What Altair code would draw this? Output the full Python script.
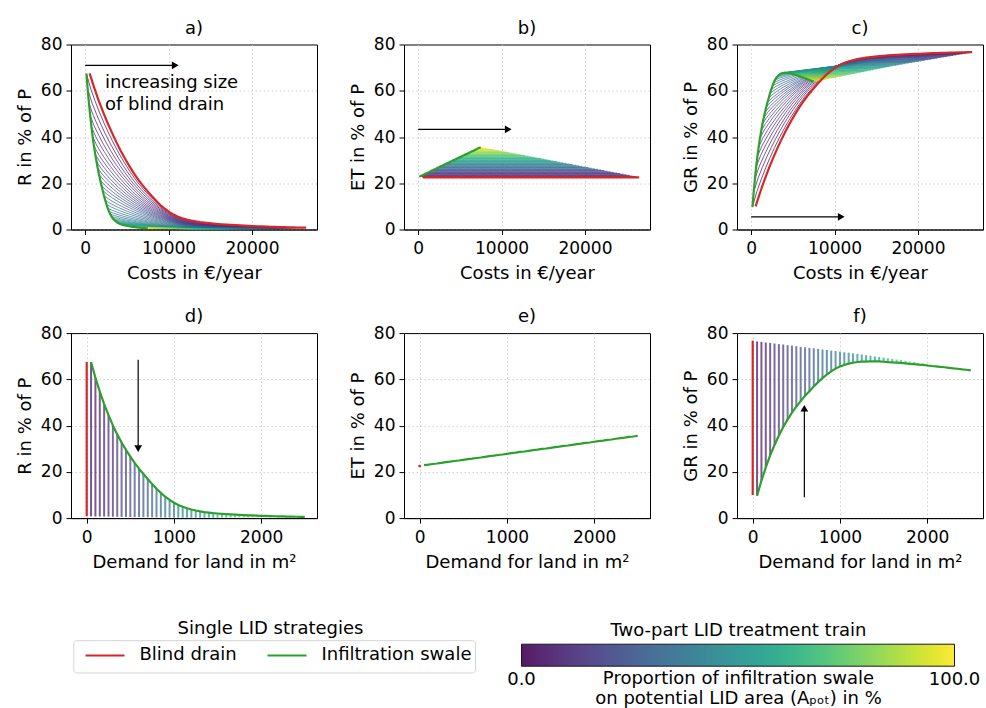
import altair as alt
import pandas as pd

# ---------------- values ----------------
SWALE_AREA = [50, 100, 150, 200, 250, 300, 350, 400, 450, 500,
              550, 600, 650, 700, 750, 800, 850, 900, 950, 1000,
              1050, 1100, 1150, 1200, 1250, 1300, 1350, 1400, 1450, 1500,
              1550, 1600, 1650, 1700, 1750, 1800, 1850, 1900, 1950, 2000,
              2050, 2100, 2150, 2200, 2250, 2300, 2350, 2400, 2450, 2500]
# runoff of the infiltration swale alone (panel d, green)
R_SWALE = [67.4, 60.7, 54.7, 49.3, 44.5, 40.1, 36.2, 32.7, 29.5, 26.6,
           23.9, 21.4, 19.1, 16.9, 14.7, 12.7, 10.9, 9.24, 7.85, 6.67,
           5.68, 4.88, 4.23, 3.70, 3.27, 2.90, 2.58, 2.34, 2.14, 1.99,
           1.85, 1.72, 1.61, 1.50, 1.40, 1.31, 1.22, 1.14, 1.07, 1.00,
           0.93, 0.87, 0.81, 0.76, 0.71, 0.66, 0.62, 0.58, 0.54, 0.50]
# evapotranspiration of the swale (panel e, green)
ET_SWALE = [22.9, 23.1, 23.4, 23.6, 23.9, 24.2, 24.4, 24.7, 24.9, 25.2,
            25.5, 25.7, 26.0, 26.2, 26.5, 26.8, 27.0, 27.3, 27.5, 27.8,
            28.1, 28.3, 28.6, 28.8, 29.1, 29.4, 29.6, 29.9, 30.1, 30.4,
            30.7, 30.9, 31.2, 31.4, 31.7, 32.0, 32.2, 32.5, 32.7, 33.0,
            33.3, 33.5, 33.8, 34.0, 34.3, 34.6, 34.8, 35.1, 35.3, 35.6]
DRAIN_AREA = SWALE_AREA
# runoff of the blind drain alone (panel a, red)
R_DRAIN = [67.5, 61.6, 56.1, 51.1, 46.4, 42.1, 38.0, 34.2, 30.7, 27.4,
           24.4, 21.6, 19.1, 16.8, 14.6, 12.5, 10.6, 9.0, 7.6, 6.44,
           5.54, 4.84, 4.29, 3.85, 3.49, 3.19, 2.94, 2.72, 2.53, 2.36,
           2.21, 2.08, 1.96, 1.85, 1.75, 1.66, 1.57, 1.49, 1.41, 1.33,
           1.26, 1.19, 1.13, 1.07, 1.01, 0.96, 0.91, 0.86, 0.81, 0.77]
ET_DRAIN = 22.5
R_NO_LID = 75.0
SWALE_COST_PER_M2 = 3.0
DRAIN_COST_PER_M2 = 10.6
A_POT = 2500
P_TOTAL = 100.0

STRATEGIES = ["Blind drain", "Infiltration swale"]
STRATEGY_COLORS = ["#d62728", "#2ca02c"]
COST_TICKS = [0, 10000, 20000]
LAND_TICKS = [0, 1000, 2000]
Y_TICKS = [0, 20, 40, 60, 80]
PANEL_TITLES = ["a)", "b)", "c)", "d)", "e)", "f)"]
Y_TITLES = {"R": "R in % of P", "ET": "ET in % of P", "GR": "GR in % of P"}

FONT = "DejaVu Sans"
W, H = 246, 185
PAD_L, PAD_T = 15, 18.5

# ---------------- tables ----------------
fam_rows, rule_rows = [], []
for i, s in enumerate(SWALE_AREA):
    p = s / A_POT * 100
    et = ET_SWALE[i]
    line_r = []
    for b in [0] + [b for b in DRAIN_AREA if b <= A_POT - s]:
        rb = R_NO_LID if b == 0 else R_DRAIN[DRAIN_AREA.index(b)]
        r = R_SWALE[i] * rb / R_NO_LID
        line_r.append(r)
        fam_rows.append(dict(p=p, sid=i, cost=SWALE_COST_PER_M2 * s + DRAIN_COST_PER_M2 * b,
                             R=r, ET=et, GR=P_TOTAL - et - r))
    rmin = min(line_r)
    rule_rows.append(dict(p=p, land=s, R_lo=rmin, R_hi=R_SWALE[i],
                          GR_lo=P_TOTAL - et - R_SWALE[i], GR_hi=P_TOTAL - et - rmin))
fam = pd.DataFrame(fam_rows)
rules = pd.DataFrame(rule_rows)

red = pd.DataFrame(dict(b=DRAIN_AREA, cost=[DRAIN_COST_PER_M2 * b for b in DRAIN_AREA],
                        land=[0] * len(DRAIN_AREA), R=R_DRAIN, ET=[ET_DRAIN] * len(DRAIN_AREA),
                        GR=[P_TOTAL - ET_DRAIN - r for r in R_DRAIN], strategy=STRATEGIES[0]))
green = pd.DataFrame(dict(b=SWALE_AREA, cost=[SWALE_COST_PER_M2 * s for s in SWALE_AREA],
                          land=SWALE_AREA, R=R_SWALE, ET=ET_SWALE,
                          GR=[P_TOTAL - e - r for e, r in zip(ET_SWALE, R_SWALE)],
                          strategy=STRATEGIES[1]))

viridis = alt.Scale(scheme="viridis", domain=[0, 100])
strat_scale = alt.Scale(domain=STRATEGIES, range=STRATEGY_COLORS)

# legend positions are relative to the top-left corner of panel a's plot area
PLOT_X0, PLOT_Y0 = 70.5, 42.3
cbar_legend = alt.Legend(
    orient="none", legendX=521 - PLOT_X0, legendY=620 - PLOT_Y0, direction="horizontal",
    title="Two-part LID treatment train", titleFontSize=18, titleFontWeight="normal",
    titleColor="black", titleAnchor="middle", titlePadding=4, titleFont=FONT, titleLimit=600,
    gradientLength=433, gradientThickness=22, gradientStrokeColor="black",
    gradientStrokeWidth=1, values=[0.0001, 99.9999], format=".1f", labelFontSize=18,
    labelFont=FONT, labelColor="black", labelOffset=5, padding=0)
strat_legend = alt.Legend(
    orient="none", legendX=84 - PLOT_X0, legendY=632.5 - PLOT_Y0, direction="horizontal",
    title=None, symbolType="stroke", symbolSize=1521, symbolStrokeWidth=2,
    labelFontSize=18, labelFont=FONT, labelColor="black", labelOffset=14,
    columnPadding=26, padding=0)

# no grid line on the top frame edge
Y_GRID_OPACITY = {"condition": {"test": "datum.value >= 80", "value": 0}, "value": 1}


def arrow_layers(x0, x1, y0, y1, shape, sx, sy):
    d = pd.DataFrame(dict(x0=[x0], x1=[x1], y0=[y0], y1=[y1], hx=[sx], hy=[sy]))
    return [d, shape]


def build_panel(idx, ycol, top, xscale, arrow=None, texts=None):
    xfield = "cost" if top else "land"
    xtitle = "Costs in €/year" if top else "Demand for land in m²"
    xticks = COST_TICKS if top else LAND_TICKS
    X = lambda f: alt.X(f"{f}:Q", scale=xscale,
                        axis=alt.Axis(values=xticks, format="d", title=xtitle))
    Y = lambda f: alt.Y(f"{f}:Q", scale=alt.Scale(domain=[0, 80], nice=False),
                        axis=alt.Axis(values=Y_TICKS, title=Y_TITLES[ycol],
                                      gridOpacity=Y_GRID_OPACITY))
    layers = []
    if top:
        layers.append(alt.Chart(fam).mark_line(strokeWidth=0.8, opacity=0.9).encode(
            x=X("cost"), y=Y(ycol), detail="sid:N",
            color=alt.Color("p:Q", scale=viridis, legend=cbar_legend)))
    elif ycol != "ET":
        layers.append(alt.Chart(rules).mark_rule(strokeWidth=2, opacity=0.7).encode(
            x=X("land"), y=Y(f"{ycol}_lo"), y2=f"{ycol}_hi:Q",
            color=alt.Color("p:Q", scale=viridis, legend=cbar_legend)))
    if (not top) and ycol == "ET":
        layers.append(alt.Chart(red.head(1)).mark_point(filled=True, size=8, opacity=1).encode(
            x=X("land"), y=Y(ycol), color=alt.value(STRATEGY_COLORS[0])))
    else:
        layers.append(alt.Chart(red).mark_line(strokeWidth=2.2).encode(
            x=X(xfield), y=Y(ycol), order="b:Q",
            stroke=alt.Stroke("strategy:N", scale=strat_scale, legend=strat_legend)))
    layers.append(alt.Chart(green).mark_line(strokeWidth=2.2).encode(
        x=X(xfield), y=Y(ycol), order="b:Q",
        stroke=alt.Stroke("strategy:N", scale=strat_scale, legend=strat_legend)))
    if arrow is not None:
        d, shape = arrow
        layers.append(alt.Chart(d).mark_rule(color="black", strokeWidth=1.2).encode(
            x=X("x0"), x2="x1:Q", y=Y("y0"), y2="y1:Q"))
        layers.append(alt.Chart(d).mark_point(shape=shape, filled=True, size=60,
                                              color="black", opacity=1).encode(
            x=X("hx"), y=Y("hy")))
    if texts is not None:
        layers.append(alt.Chart(texts).mark_text(align="left", baseline="middle",
                                                 fontSize=18, font=FONT, color="black").encode(
            x=X("tx"), y=Y("ty"), text="t:N"))
    return alt.layer(*layers).properties(
        width=W, height=H,
        title=alt.TitleParams(PANEL_TITLES[idx], frame="group", offset=-2))


cost_scale = alt.Scale(domain=[-1700, 27800], nice=False, zero=False)
land_scale = alt.Scale(domain=[-180, 2640], nice=False, zero=False)

txt_a = pd.DataFrame(dict(tx=[2370, 2370], ty=[63.5, 53.7],
                          t=["increasing size", "of blind drain"]))

pa = build_panel(0, "R", True, cost_scale,
                 arrow_layers(0, 10800, 71, 71, "triangle-right", 10800, 71), txt_a)
pb = build_panel(1, "ET", True, cost_scale,
                 arrow_layers(0, 10800, 43.3, 43.3, "triangle-right", 10800, 43.3))
pc = build_panel(2, "GR", True, cost_scale,
                 arrow_layers(0, 10800, 5.5, 5.5, "triangle-right", 10800, 5.5))
pd_ = build_panel(3, "R", False, land_scale,
                  arrow_layers(590, 590, 68.5, 30, "triangle-down", 590, 30))
pe = build_panel(4, "ET", False, land_scale)
pf = build_panel(5, "GR", False, land_scale,
                 arrow_layers(592, 592, 9, 47.5, "triangle-up", 592, 47.5))

SPACING = 30
row1 = alt.hconcat(pa, pb, pc, spacing=SPACING)
row2 = alt.hconcat(pd_, pe, pf, spacing=SPACING)
panels = alt.vconcat(row1, row2, spacing=23.6)

# helper area under the panels (its origin sits under panel a's plot area)
HELP_W, HELP_H = 900, 124
HELP_X0, HELP_Y0 = 70.5, 575.5
helper_txt = pd.DataFrame(dict(
    hx=[270 - HELP_X0, 738 - HELP_X0], hy=[626 - HELP_Y0, 675.5 - HELP_Y0],
    t=["Single LID strategies",
       "Proportion of infiltration swale\non potential LID area (A\u209a\u2092\u209c) in %"]))
hx_scale = alt.Scale(domain=[0, HELP_W], nice=False)
hy_scale = alt.Scale(domain=[HELP_H, 0], nice=False)
helper_text = alt.Chart(helper_txt).mark_text(fontSize=18, font=FONT, color="black",
                                              align="center", baseline="middle",
                                              lineBreak="\n", lineHeight=20.5).encode(
    x=alt.X("hx:Q", scale=hx_scale, axis=None),
    y=alt.Y("hy:Q", scale=hy_scale, axis=None),
    text="t:N")
legend_frame = alt.Chart(pd.DataFrame({"k": [0]})).mark_rect(
    fill="white", stroke="#d4d4d4", strokeWidth=1, cornerRadius=3).encode(
    x=alt.value(73.3 - HELP_X0), x2=alt.value(475 - HELP_X0),
    y=alt.value(637.7 - HELP_Y0), y2=alt.value(670 - HELP_Y0))
helper = alt.layer(legend_frame, helper_text).properties(
    width=HELP_W, height=HELP_H, view=alt.ViewBackground(stroke="transparent"))

chart = alt.vconcat(panels, helper, spacing=5).properties(
    padding={"left": PAD_L, "top": PAD_T, "right": 0, "bottom": 0}
).configure(font=FONT).configure_view(stroke="black", strokeWidth=1).configure_axis(
    grid=True, gridDash=[1.5, 2.5], gridColor="#c8c8c8", gridWidth=0.9,
    tickSize=5, tickColor="black", domainColor="black",
    labelFontSize=17, labelColor="black", titleFontSize=18, titleFontWeight="normal",
    titleColor="black", labelFont=FONT, titleFont=FONT
).configure_axisX(labelPadding=6, titlePadding=8
).configure_axisY(labelPadding=4, titlePadding=6
).configure_title(fontSize=18, fontWeight="normal", color="black", font=FONT,
                  anchor="middle")

chart.save("out.html", embed_options={"renderer": "svg", "actions": False})
